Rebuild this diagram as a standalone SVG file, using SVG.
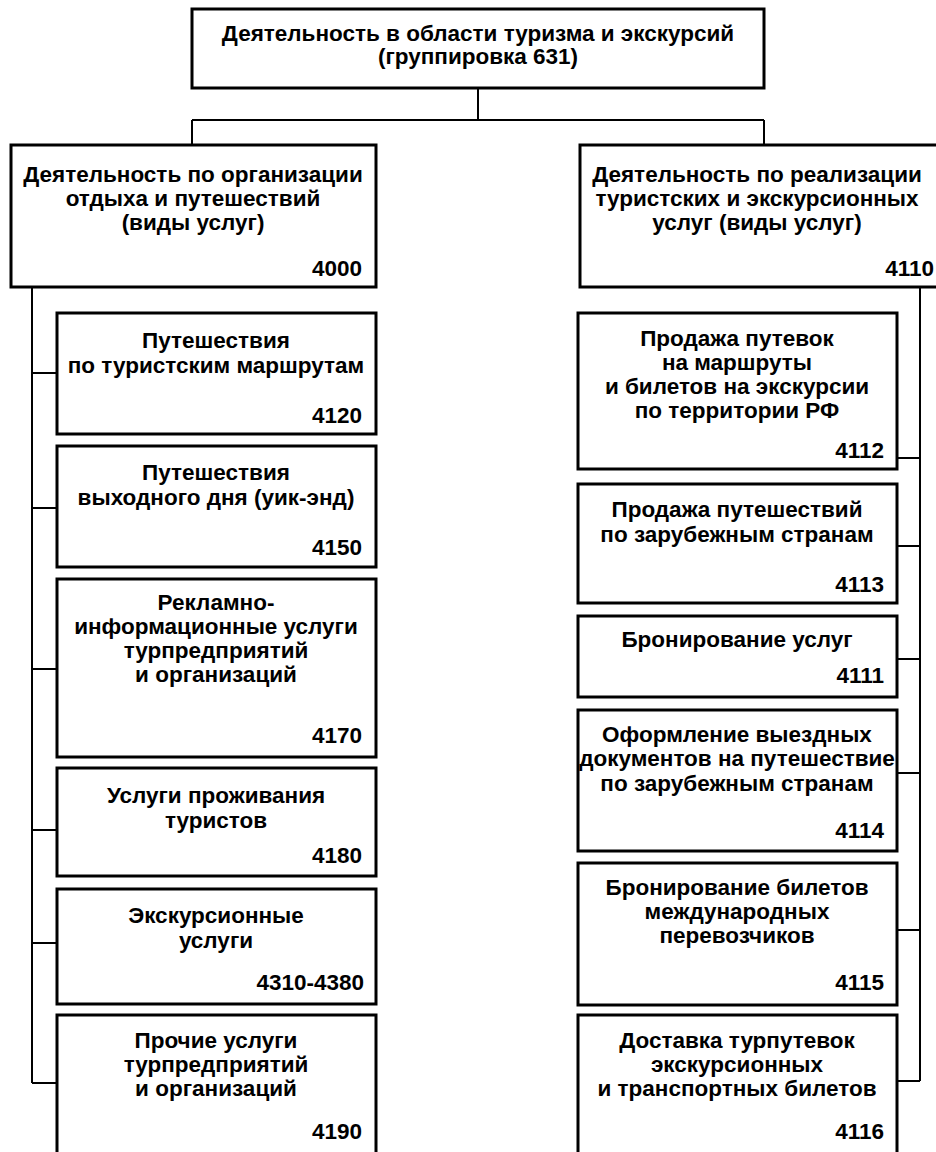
<svg xmlns="http://www.w3.org/2000/svg" width="936" height="1152" viewBox="0 0 936 1152">
<style>
.box{fill:#fff;stroke:#000;stroke-width:3}
.ln{fill:none;stroke:#000;stroke-width:2}
text{font-family:"Liberation Sans",Arial,sans-serif;font-weight:bold;font-size:22.5px;fill:#000}
.c{text-anchor:middle}
.r{text-anchor:end}
</style>
<rect width="936" height="1152" fill="#fff"/>
<g id="connectors">
<path class="ln" d="M478,88 V120 M192,120 H764 M192,120 V145 M764,120 V145"/>
<path class="ln" d="M32,287 V1083 M32,373 H57 M32,508 H57 M32,669 H57 M32,830 H57 M32,943 H57 M32,1083 H57"/>
<path class="ln" d="M920,287 V1081 M897,458 H920 M897,546 H920 M897,659 H920 M897,773 H920 M897,930 H920 M897,1081 H920"/>
</g>
<g id="n631">
<rect class="box" x="192" y="9" width="572" height="79"/>
<text class="c" x="478" y="41">Деятельность в области туризма и экскурсий</text>
<text class="c" x="478" y="64">(группировка 631)</text>
</g>
<g id="n4000">
<rect class="box" x="11" y="145" width="365" height="142"/>
<text class="c" x="193" y="182">Деятельность по организации</text>
<text class="c" x="193" y="206">отдыха и путешествий</text>
<text class="c" x="193" y="230">(виды услуг)</text>
<text class="r" x="362" y="276">4000</text>
</g>
<g id="n4110">
<rect class="box" x="580" y="145" width="370" height="142"/>
<text class="c" x="757" y="182">Деятельность по реализации</text>
<text class="c" x="757" y="206">туристских и экскурсионных</text>
<text class="c" x="757" y="230">услуг (виды услуг)</text>
<text class="r" x="934" y="276">4110</text>
</g>
<g id="n4120">
<rect class="box" x="57" y="313" width="319" height="121"/>
<text class="c" x="216" y="348">Путешествия</text>
<text class="c" x="216" y="373">по туристским маршрутам</text>
<text class="r" x="362" y="423">4120</text>
</g>
<g id="n4150">
<rect class="box" x="57" y="446" width="319" height="121"/>
<text class="c" x="216" y="480">Путешествия</text>
<text class="c" x="216" y="505">выходного дня (уик-энд)</text>
<text class="r" x="362" y="555">4150</text>
</g>
<g id="n4170">
<rect class="box" x="57" y="579" width="319" height="178"/>
<text class="c" x="216" y="610">Рекламно-</text>
<text class="c" x="216" y="634">информационные услуги</text>
<text class="c" x="216" y="658">турпредприятий</text>
<text class="c" x="216" y="682">и организаций</text>
<text class="r" x="362" y="743">4170</text>
</g>
<g id="n4180">
<rect class="box" x="57" y="768" width="319" height="108"/>
<text class="c" x="216" y="803">Услуги проживания</text>
<text class="c" x="216" y="828">туристов</text>
<text class="r" x="362" y="863">4180</text>
</g>
<g id="n4310">
<rect class="box" x="57" y="889" width="319" height="115"/>
<text class="c" x="216" y="923">Экскурсионные</text>
<text class="c" x="216" y="948">услуги</text>
<text class="r" x="364" y="990">4310-4380</text>
</g>
<g id="n4190">
<rect class="box" x="57" y="1015" width="319" height="150"/>
<text class="c" x="216" y="1048">Прочие услуги</text>
<text class="c" x="216" y="1072">турпредприятий</text>
<text class="c" x="216" y="1096">и организаций</text>
<text class="r" x="362" y="1139">4190</text>
</g>
<g id="n4112">
<rect class="box" x="578" y="313" width="319" height="156"/>
<text class="c" x="737" y="346">Продажа путевок</text>
<text class="c" x="737" y="370">на маршруты</text>
<text class="c" x="737" y="394">и билетов на экскурсии</text>
<text class="c" x="737" y="418">по территории РФ</text>
<text class="r" x="884" y="458">4112</text>
</g>
<g id="n4113">
<rect class="box" x="578" y="484" width="319" height="119"/>
<text class="c" x="737" y="517">Продажа путешествий</text>
<text class="c" x="737" y="542">по зарубежным странам</text>
<text class="r" x="884" y="592">4113</text>
</g>
<g id="n4111">
<rect class="box" x="578" y="616" width="319" height="81"/>
<text class="c" x="737" y="647">Бронирование услуг</text>
<text class="r" x="884" y="683">4111</text>
</g>
<g id="n4114">
<rect class="box" x="578" y="710" width="319" height="141"/>
<text class="c" x="737" y="742">Оформление выездных</text>
<text class="c" x="737" y="766">документов на путешествие</text>
<text class="c" x="737" y="791">по зарубежным странам</text>
<text class="r" x="884" y="838">4114</text>
</g>
<g id="n4115">
<rect class="box" x="578" y="863" width="319" height="142"/>
<text class="c" x="737" y="895">Бронирование билетов</text>
<text class="c" x="737" y="919">международных</text>
<text class="c" x="737" y="943">перевозчиков</text>
<text class="r" x="884" y="990">4115</text>
</g>
<g id="n4116">
<rect class="box" x="578" y="1015" width="319" height="150"/>
<text class="c" x="737" y="1048">Доставка турпутевок</text>
<text class="c" x="737" y="1072">экскурсионных</text>
<text class="c" x="737" y="1096">и транспортных билетов</text>
<text class="r" x="884" y="1139">4116</text>
</g>
</svg>
